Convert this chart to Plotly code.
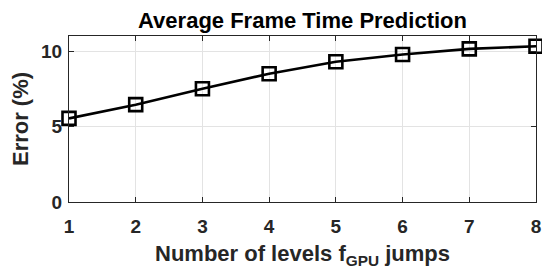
import plotly.graph_objects as go

levels = [1, 2, 3, 4, 5, 6, 7, 8]
error_pct = [5.54, 6.45, 7.5, 8.5, 9.29, 9.77, 10.15, 10.32]
y_ticks = [0, 5, 10]

fig = go.Figure()
fig.add_trace(go.Scatter(
    x=levels, y=error_pct, mode="lines+markers",
    line=dict(color="black", width=2.6),
    marker=dict(symbol="square-open", size=13, color="black", line=dict(width=2.6)),
    cliponaxis=False, showlegend=False,
))

axis_common = dict(
    showgrid=True, gridcolor="#e3e3e3", gridwidth=1,
    showline=True, linecolor="#262626", linewidth=1, mirror="ticks",
    ticks="inside", ticklen=5, tickcolor="#262626",
    tickfont=dict(family="Liberation Sans", size=19, color="#262626", weight="bold"),
    zeroline=False, automargin=False,
)

fig.update_layout(
    width=542, height=269,
    margin=dict(l=69, r=6, t=36, b=67, autoexpand=False),
    paper_bgcolor="white", plot_bgcolor="white",
    title=dict(text="<b>Average Frame Time Prediction</b>", x=0.5, xref="paper",
               xanchor="center", y=0.926, yanchor="middle", automargin=False,
               font=dict(family="Liberation Sans", size=22, color="black")),
    xaxis=dict(range=[1, 8], tickvals=levels, ticklabelstandoff=7, **axis_common,
               title=dict(text="<b>Number of levels f<sub>GPU</sub> jumps</b>", standoff=13,
                          font=dict(family="Liberation Sans", size=22, color="#262626"))),
    yaxis=dict(range=[0, 11], tickvals=y_ticks, ticklabelstandoff=2, **axis_common,
               title=dict(text="<b>Error (%)</b>", standoff=6,
                          font=dict(family="Liberation Sans", size=22, color="#262626"))),
)

fig.write_html("out.html", config={"displayModeBar": False},
               post_script="document.body.style.margin='0';")
